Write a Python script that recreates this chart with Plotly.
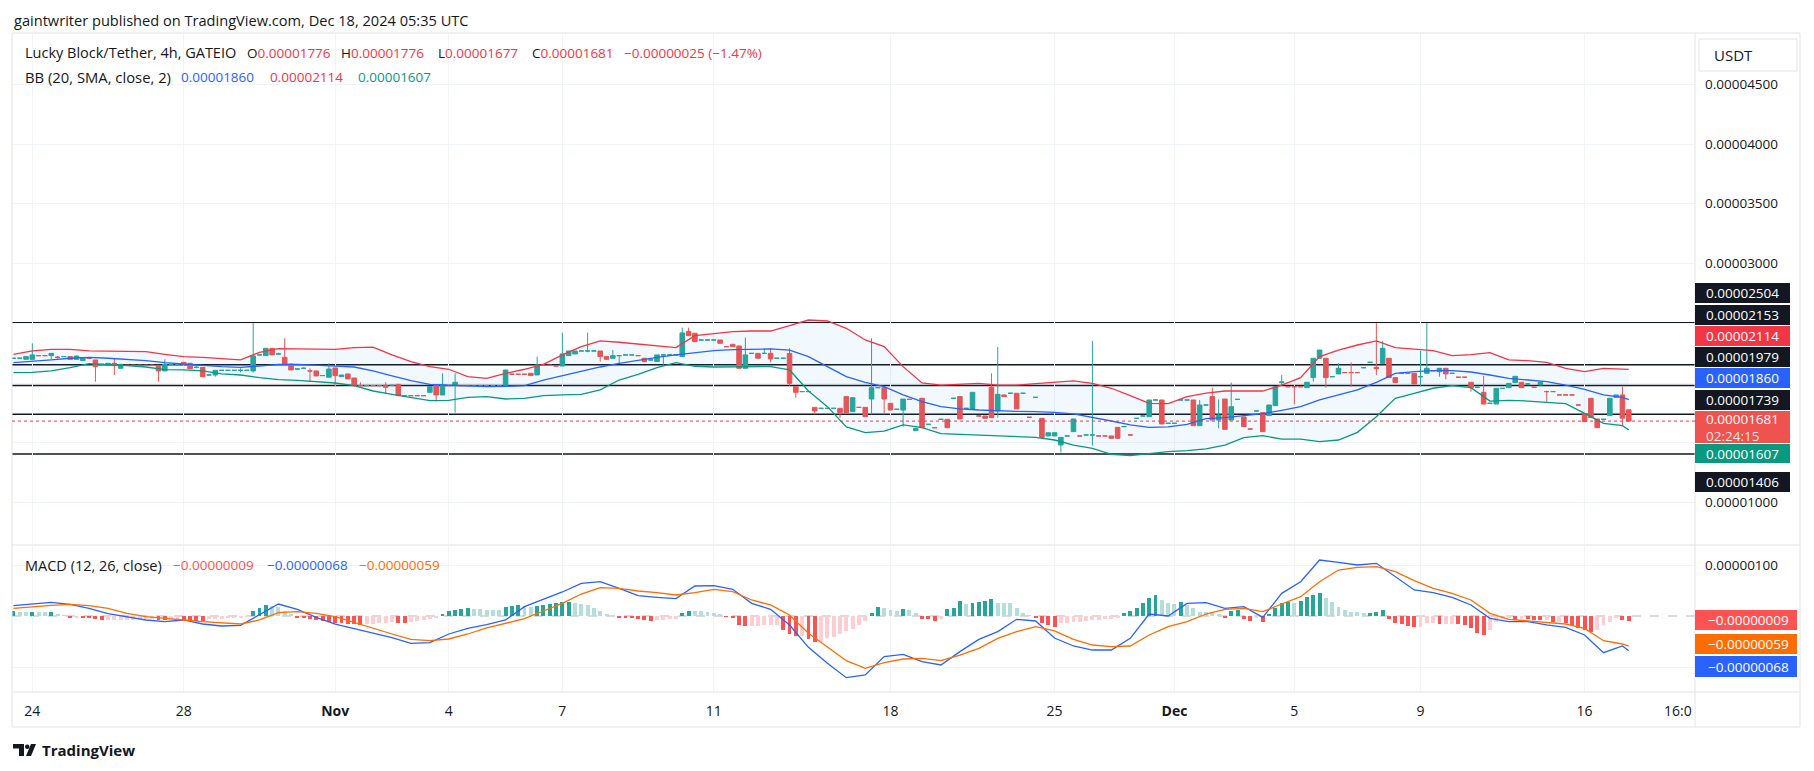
import plotly.graph_objects as go

# all prices / indicator values below are in units of 0.00000001 USDT
UNIT = 1e-8

opens = [
    2207, 2207, 2198, 2198, 2229, 2229, 2229, 2215, 2221, 2221,
    2198, 2187, 2207, 2193, 2156, 2148, 2165, 2123, 2148, 2148,
    2148, 2148, 2148, 2148, 2101, 2156, 2156, 2173, 2165, 2131,
    2131, 2067, 2067, 2106, 2106, 2106, 2106, 2106, 2101, 2235,
    2229, 2290, 2243, 2215, 2159, 2117, 2123, 2101, 2101, 2062,
    2048, 2126, 2053, 2076, 2042, 1978, 1978, 1978, 1978, 1981,
    1981, 1989, 1894, 1894, 1894, 1894, 1922, 1983, 1900, 1978,
    1978, 1978, 1978, 1978, 1978, 1978, 1978, 1978, 1978, 2073,
    2073, 2073, 2081, 2067, 2148, 2148, 2142, 2142, 2229, 2243,
    2268, 2268, 2268, 2268, 2221, 2207, 2229, 2235, 2235, 2229,
    2207, 2193, 2179, 2235, 2235, 2235, 2221, 2430, 2416, 2360,
    2360, 2360, 2360, 2304, 2324, 2310, 2123, 2248, 2248, 2248,
    2248, 2207, 2207, 2248, 1969, 1928, 1928, 1796, 1788, 1788,
    1788, 1788, 1886, 1760, 1796, 1796, 1866, 1961, 1961, 1830,
    1780, 1774, 1863, 1601, 1872, 1654, 1626, 1696, 1696, 1872,
    1886, 1788, 1783, 1724, 1724, 1964, 1766, 1900, 1914, 1914,
    1914, 1713, 1880, 1704, 1557, 1557, 1481, 1557, 1593, 1557,
    1565, 1565, 1557, 1557, 1557, 1629, 1635, 1565, 1704, 1724,
    1718, 1858, 1858, 1663, 1663, 1858, 1858, 1858, 1643, 1816,
    1886, 1690, 1866, 1690, 1863, 1716, 1615, 1766, 1752, 1727,
    1810, 2003, 1969, 1969, 1969, 1961, 2045, 2207, 2207, 2053,
    2076, 2087, 2087, 2087, 2128, 2173, 2131, 2162, 2207, 2045,
    2081, 2081, 2081, 2053, 2081, 2103, 2095, 2123, 2081, 2048,
    2048, 2006, 1964, 1922, 1830, 1824, 1955, 1961, 2003, 2006,
    1992, 1964, 1983, 1928, 1928, 1900, 1900, 1900, 1816, 1738,
    1872, 1699, 1696, 1727, 1880, 1900, 1776,
]
highs = [
    2207, 2207, 2221, 2332, 2229, 2229, 2248, 2226, 2221, 2221,
    2226, 2212, 2207, 2193, 2156, 2165, 2207, 2156, 2148, 2148,
    2148, 2148, 2148, 2148, 2198, 2156, 2156, 2173, 2165, 2140,
    2131, 2067, 2106, 2106, 2106, 2106, 2123, 2106, 2500, 2235,
    2290, 2290, 2254, 2374, 2159, 2117, 2131, 2123, 2101, 2062,
    2165, 2126, 2067, 2076, 2042, 2006, 1978, 1978, 1978, 2006,
    1981, 1989, 1894, 1894, 1894, 1894, 1969, 1983, 2081, 1978,
    2081, 1978, 1978, 1978, 1978, 1978, 1978, 1978, 2109, 2073,
    2073, 2073, 2081, 2221, 2148, 2148, 2142, 2421, 2268, 2268,
    2268, 2421, 2268, 2268, 2221, 2276, 2229, 2235, 2235, 2229,
    2207, 2193, 2235, 2235, 2235, 2235, 2463, 2463, 2416, 2360,
    2360, 2360, 2360, 2304, 2324, 2310, 2380, 2248, 2248, 2290,
    2290, 2207, 2207, 2290, 1969, 1928, 1928, 1796, 1788, 1788,
    1788, 1788, 1886, 1877, 1796, 1796, 2374, 1961, 1961, 1830,
    1780, 1866, 1863, 1621, 1872, 1654, 1626, 1696, 1696, 1872,
    1886, 1788, 1922, 1724, 1724, 2081, 2301, 1900, 1914, 1914,
    1914, 1713, 1880, 1704, 1584, 1584, 1545, 1557, 1699, 1557,
    1565, 2352, 1557, 1557, 1557, 1629, 1635, 1565, 1704, 1724,
    1858, 1858, 1858, 1663, 1663, 1858, 1858, 1858, 1858, 1816,
    1961, 1863, 1866, 2003, 1863, 1716, 1615, 1766, 1752, 1816,
    1969, 2067, 1969, 1969, 1969, 2006, 2207, 2276, 2207, 2053,
    2165, 2087, 2173, 2087, 2128, 2173, 2500, 2352, 2207, 2045,
    2081, 2081, 2081, 2268, 2500, 2103, 2123, 2123, 2081, 2048,
    2048, 2006, 1964, 2059, 1830, 1955, 1955, 1997, 2056, 2006,
    1992, 1964, 2006, 1936, 1928, 1900, 1900, 1900, 1816, 1738,
    1872, 1699, 1696, 1872, 1900, 1969, 1776,
]
lows = [
    2207, 2207, 2198, 2198, 2229, 2229, 2201, 2204, 2221, 2198,
    2198, 2187, 2207, 2011, 2156, 2148, 2067, 2123, 2148, 2148,
    2148, 2148, 2148, 2011, 2101, 2156, 2156, 2151, 2120, 2123,
    2053, 2067, 2053, 2106, 2106, 2106, 2089, 2106, 2087, 2235,
    2229, 2235, 2235, 2159, 2109, 2117, 2117, 2006, 2059, 2062,
    2048, 1969, 2053, 2034, 1978, 1972, 1978, 1978, 1978, 1914,
    1981, 1894, 1894, 1894, 1894, 1894, 1922, 1844, 1900, 1978,
    1752, 1978, 1978, 1978, 1978, 1978, 1978, 1978, 1978, 2073,
    2073, 2073, 2062, 2067, 2148, 2148, 2142, 2142, 2229, 2243,
    2268, 2257, 2268, 2179, 2198, 2207, 2165, 2235, 2235, 2229,
    2179, 2193, 2179, 2151, 2235, 2235, 2221, 2396, 2346, 2360,
    2360, 2360, 2332, 2304, 2304, 2123, 2123, 2248, 2207, 2248,
    2173, 2207, 2207, 1978, 1877, 1928, 1928, 1738, 1788, 1788,
    1788, 1710, 1752, 1760, 1796, 1718, 1738, 1961, 1738, 1774,
    1780, 1635, 1863, 1601, 1626, 1654, 1626, 1696, 1626, 1872,
    1699, 1788, 1783, 1724, 1704, 1710, 1710, 1886, 1914, 1783,
    1914, 1713, 1880, 1543, 1557, 1557, 1420, 1557, 1593, 1557,
    1565, 1476, 1557, 1557, 1537, 1537, 1635, 1565, 1704, 1724,
    1718, 1858, 1657, 1663, 1663, 1858, 1858, 1643, 1643, 1816,
    1690, 1621, 1612, 1690, 1863, 1635, 1615, 1766, 1593, 1727,
    1810, 1983, 1969, 1822, 1969, 1961, 2011, 2207, 1961, 2053,
    2076, 2087, 1969, 2087, 2128, 2173, 2067, 2162, 2045, 2003,
    2081, 2081, 1992, 1969, 2081, 2103, 2053, 2031, 2081, 2048,
    2048, 1928, 1964, 1824, 1830, 1824, 1955, 1961, 2003, 1961,
    1992, 1964, 1983, 1844, 1928, 1900, 1900, 1900, 1816, 1677,
    1710, 1626, 1696, 1727, 1880, 1643, 1677,
]
closes = [
    2207, 2207, 2221, 2235, 2229, 2229, 2248, 2215, 2221, 2198,
    2226, 2212, 2207, 2137, 2156, 2165, 2145, 2156, 2148, 2148,
    2148, 2148, 2148, 2101, 2156, 2156, 2156, 2151, 2120, 2131,
    2053, 2067, 2106, 2106, 2106, 2106, 2106, 2106, 2226, 2235,
    2290, 2235, 2243, 2159, 2109, 2117, 2123, 2101, 2059, 2062,
    2117, 2062, 2067, 2034, 1978, 1978, 1978, 1978, 1978, 1964,
    1981, 1894, 1894, 1894, 1894, 1894, 1969, 1900, 1983, 1978,
    2006, 1978, 1978, 1978, 1978, 1978, 1978, 1978, 2109, 2073,
    2073, 2073, 2062, 2151, 2148, 2148, 2142, 2243, 2268, 2268,
    2268, 2268, 2268, 2221, 2198, 2229, 2229, 2235, 2235, 2229,
    2179, 2193, 2235, 2235, 2235, 2235, 2419, 2396, 2346, 2360,
    2360, 2360, 2332, 2304, 2304, 2123, 2235, 2248, 2207, 2248,
    2201, 2207, 2207, 1997, 1922, 1928, 1928, 1766, 1788, 1788,
    1788, 1752, 1752, 1877, 1796, 1718, 1961, 1961, 1866, 1774,
    1780, 1866, 1863, 1621, 1626, 1654, 1626, 1696, 1626, 1872,
    1699, 1788, 1922, 1724, 1704, 1710, 1905, 1886, 1914, 1783,
    1914, 1713, 1880, 1543, 1584, 1584, 1545, 1557, 1699, 1557,
    1565, 1565, 1557, 1557, 1537, 1537, 1635, 1565, 1704, 1724,
    1858, 1858, 1657, 1663, 1663, 1858, 1858, 1643, 1816, 1816,
    1690, 1732, 1612, 1802, 1863, 1635, 1615, 1766, 1593, 1816,
    1969, 2009, 1969, 1969, 1969, 2006, 2207, 2276, 2045, 2053,
    2123, 2087, 2087, 2087, 2128, 2173, 2120, 2290, 2045, 2003,
    2081, 2081, 1992, 2053, 2123, 2103, 2123, 2076, 2081, 2048,
    2048, 1961, 1964, 1824, 1830, 1955, 1955, 1997, 2056, 1961,
    1992, 1964, 2006, 1928, 1928, 1900, 1900, 1900, 1816, 1677,
    1710, 1626, 1696, 1872, 1900, 1706, 1681,
]

# Bollinger Bands (20, SMA, close, 2) read every third bar
bb_bars = list(range(0, 256, 3)) + [256]
bb_upper = [
    2240, 2268, 2282, 2282, 2268, 2265, 2268, 2262, 2240, 2221, 2215, 2207,
    2193, 2257, 2288, 2285, 2282, 2282, 2296, 2301, 2235, 2179, 2137,
    2115, 2053, 2039, 2081, 2115, 2156, 2235, 2304, 2352, 2341, 2324, 2307,
    2296, 2396, 2416, 2430, 2435, 2435, 2480, 2527, 2519, 2458,
    2360, 2304, 2137, 2000, 1983, 1989, 1997, 1983, 1983, 1995, 2006, 2017,
    1997, 1956, 1894, 1830, 1827, 1886, 1916, 1933, 1933, 1933,
    1983, 2045, 2221, 2276, 2318, 2352, 2296, 2282, 2271, 2229, 2237, 2254,
    2193, 2187, 2173, 2123, 2095, 2123, 2120, 2114,
]
bb_basis = [
    2170, 2179, 2193, 2207, 2215, 2207, 2198, 2187, 2170, 2156, 2148, 2137,
    2131, 2142, 2156, 2156, 2151, 2142, 2134, 2101, 2059, 2020, 1989,
    1983, 1978, 1969, 1972, 1978, 2025, 2062, 2103, 2134, 2165, 2193, 2215,
    2235, 2254, 2271, 2279, 2285, 2285, 2276, 2221, 2137, 2053,
    2006, 1969, 1900, 1844, 1802, 1783, 1774, 1766, 1763, 1760, 1755, 1741,
    1713, 1682, 1649, 1629, 1632, 1654, 1702, 1710, 1727, 1743,
    1771, 1802, 1858, 1900, 1942, 2006, 2081, 2095, 2103, 2103, 2092, 2067,
    2039, 2025, 2011, 1983, 1947, 1900, 1880, 1860,
]
bb_lower = [
    2087, 2089, 2101, 2128, 2162, 2156, 2145, 2134, 2112, 2109, 2101, 2076,
    2067, 2045, 2028, 2022, 2008, 2000, 1978, 1933, 1905, 1877, 1852,
    1855, 1880, 1886, 1866, 1872, 1894, 1900, 1905, 1942, 2025, 2073, 2128,
    2170, 2140, 2134, 2137, 2137, 2137, 2109, 1933, 1802, 1632,
    1584, 1598, 1649, 1626, 1576, 1570, 1565, 1559, 1554, 1545, 1523, 1481,
    1453, 1403, 1392, 1411, 1425, 1434, 1448, 1481, 1543, 1559,
    1531, 1531, 1509, 1523, 1587, 1718, 1872, 1914, 1956, 1978, 1961, 1849,
    1855, 1849, 1838, 1827, 1746, 1663, 1643, 1607,
]

# MACD (12, 26, close), same sampling as the bands
macd_line = [
    20.3, 24.2, 26.8, 22.9, 15.0, 4.6, -1.3, -7.8, -11.1, -7.8, -15.7, -19.6,
    -18.3, 2.0, 23.5, 13.1, -2.6, -15.7, -24.8, -33.3, -42.5, -53.6, -52.3,
    -35.3, -24.2, -17.0, -7.8, 18.3, 33.3, 47.1, 64.1, 67.3, 54.2, 39.9, 36.6,
    34.0, 58.8, 59.5, 52.3, 24.8, 13.1, -17.6, -61.4, -92.8, -120.9,
    -115.7, -79.7, -75.2, -89.5, -96.1, -69.9, -45.8, -30.7, -6.5, -9.8, -43.1,
    -58.8, -66.7, -66.7, -43.8, 3.9, 0.0, 24.8, 26.1, 15.0, 18.3, -2.6,
    44.4, 67.3, 109.8, 105.2, 100.0, 103.3, 77.1, 51.0, 45.8, 36.6, 21.6, -4.6,
    -11.1, -11.1, -17.6, -22.2, -37.3, -71.9, -58.8, -68,
]
macd_signal = [
    15.0, 18.3, 20.9, 22.9, 20.3, 15.0, 5.2, -1.3, -3.9, -7.8, -11.1, -13.1,
    -15.7, -7.8, 6.5, 8.5, 5.2, -1.3, -13.1, -23.5, -35.3, -45.8, -48.4,
    -45.1, -35.3, -23.5, -14.4, -5.2, 9.8, 24.8, 43.1, 55.6, 54.2, 49.0, 45.8,
    41.2, 45.8, 52.3, 47.7, 31.4, 21.6, 2.0, -34.0, -60.1, -87.6,
    -102.6, -91.5, -84.3, -83.0, -87.6, -76.5, -63.4, -43.8, -30.7, -20.9, -29.4,
    -45.8, -56.9, -60.1, -58.8, -37.3, -20.9, -11.1, 3.9, 13.1, 15.0, 8.5,
    23.5, 37.9, 67.3, 90.2, 95.4, 96.7, 86.9, 69.3, 54.2, 44.4, 31.4, 5.2,
    -6.5, -9.8, -13.1, -15.7, -24.2, -48.4, -54.9, -59,
]
macd_hist = [
    9, 8, 7, 8, 7, 7, 8, 4, 1, -2,
    -2, -3, -4, -6, -8, -8, -8, -7, -7, -7,
    -6, -6, -6, -7, -8, -6, -5, -7, -8, -9,
    -10, -6, -5, -5, -4, -4, -3, -1, 10, 15,
    22, 20, 18, 10, 3, -2, -4, -6, -8, -10,
    -11, -13, -14, -15, -16, -17, -16, -15, -14, -13,
    -12, -13, -14, -12, -9, -7, -5, -2, 4, 9,
    12, 14, 15, 13, 13, 12, 12, 11, 18, 20,
    21, 19, 18, 20, 22, 24, 26, 27, 28, 26,
    24, 21, 16, 9, 4, 0, -2, -3, -4, -6,
    -8, -9, -8, -7, -6, -5, 6, 10, 9, 9,
    8, 6, 3, -1, -4, -18, -19, -19, -19, -18,
    -18, -17, -28, -36, -40, -40, -45, -50, -50, -44,
    -41, -36, -30, -26, -18, -10, 6, 18, 15, 12,
    10, 14, 12, 5, -5, -6, -9, -5, 13, 15,
    29, 24, 25, 27, 29, 33, 26, 26, 25, 15,
    5, 1, -3, -14, -18, -22, -13, -13, -12, -11,
    -9, -8, -7, -6, -5, -4, 5, 10, 15, 25,
    35, 41, 31, 26, 24, 28, 22, 15, 8, 8,
    7, 4, -3, 10, 12, -5, -10, -3, -11, 4,
    15, 25, 28, 25, 29, 38, 41, 46, 35, 28,
    18, 12, 8, 7, 5, 6, 7, 12, -5, -14,
    -16, -20, -22, -22, -14, -14, -15, -15, -15, -16,
    -18, -24, -34, -37, -27, -11, -5, -4, -8, -5,
    -6, -7, -8, -8, -11, -11, -14, -18, -24, -27,
    -31, -27, -18, -12, -3, -7, -9,
]

# horizontal levels drawn by the author
levels = [2504, 2153, 1979, 1739, 1406]

# date labels on the time axis (bar index -> label)
date_ticks = [3, 27, 51, 69, 87, 111, 139, 165, 184, 203, 223, 249]
date_labels = ["24", "28", "<b>Nov</b>", "4", "7", "11", "18", "25", "<b>Dec</b>", "5", "9", "16"]

price_ticks = [1000, 1500, 2000, 2500, 3000, 3500, 4000, 4500]
price_tick_shown = [True, False, False, False, True, True, True, True]

# ---- page geometry (pixels) ----
W, H = 1814, 771
PLOT_L, PLOT_R, FRAME_R = 12, 1695, 1800
PRICE_T, PRICE_B = 34, 544
MACD_T, MACD_B = 546, 692
BAR0_X, BAR_STEP = 13.4, 6.31
FONT = "Open Sans, Roboto, sans-serif"
DARK = "#131722"
RED, BLUE, GREEN = "#F23645", "#2962FF", "#089981"
UP, DOWN = "#26A69A", "#EF5350"


def px(x):
    return x / W


def py(y):
    return 1 - y / H


def fmt(v):
    return f"{v * UNIT:.8f}".replace("-", "\u2212")


bars = list(range(len(closes)))
x_range = [(PLOT_L - BAR0_X) / BAR_STEP, (PLOT_R - BAR0_X) / BAR_STEP]

hist_colors = []
prev = 0
for v in macd_hist:
    if v >= 0:
        hist_colors.append("#26A69A" if v > prev else "#B2DFDB")
    else:
        hist_colors.append("#FF5252" if v < prev else "#FFCDD2")
    prev = v

fig = go.Figure()

fig.add_trace(go.Scatter(x=bb_bars, y=[v * UNIT for v in bb_lower], mode="lines",
                         line=dict(color=GREEN, width=1.3), hoverinfo="skip"))
fig.add_trace(go.Scatter(x=bb_bars, y=[v * UNIT for v in bb_upper], mode="lines",
                         line=dict(color=RED, width=1.3), fill="tonexty",
                         fillcolor="rgba(33,150,243,0.06)", hoverinfo="skip"))
fig.add_trace(go.Scatter(x=bb_bars, y=[v * UNIT for v in bb_basis], mode="lines",
                         line=dict(color=BLUE, width=1.3), hoverinfo="skip"))
fig.add_trace(go.Candlestick(
    x=bars,
    open=[v * UNIT for v in opens], high=[v * UNIT for v in highs],
    low=[v * UNIT for v in lows], close=[v * UNIT for v in closes],
    increasing=dict(line=dict(color=UP, width=1), fillcolor=UP),
    decreasing=dict(line=dict(color=DOWN, width=1), fillcolor=DOWN),
    whiskerwidth=0,
))

fig.add_trace(go.Bar(x=bars, y=[v * UNIT for v in macd_hist], marker=dict(color=hist_colors, line_width=0),
                     width=0.62, xaxis="x2", yaxis="y2", hoverinfo="skip"))
fig.add_trace(go.Scatter(x=bb_bars, y=[v * UNIT for v in macd_line], mode="lines",
                         line=dict(color=BLUE, width=1.3), xaxis="x2", yaxis="y2"))
fig.add_trace(go.Scatter(x=bb_bars, y=[v * UNIT for v in macd_signal], mode="lines",
                         line=dict(color="#FF6D00", width=1.3), xaxis="x2", yaxis="y2"))

# ---- shapes ----
shapes = []
line_gray = dict(color="#E0E3EB", width=1)
shapes.append(dict(type="rect", xref="paper", yref="paper", x0=px(PLOT_L), x1=px(FRAME_R),
                   y0=py(727), y1=py(33), line=line_gray, layer="above"))
shapes.append(dict(type="line", xref="paper", yref="paper", x0=px(PLOT_R), x1=px(PLOT_R),
                   y0=py(727), y1=py(33), line=line_gray, layer="above"))
for yy in (545, 692):
    shapes.append(dict(type="line", xref="paper", yref="paper", x0=px(PLOT_L), x1=px(FRAME_R),
                       y0=py(yy), y1=py(yy), line=line_gray, layer="above"))
for lv in levels:
    shapes.append(dict(type="line", xref="paper", yref="y", x0=px(PLOT_L), x1=px(PLOT_R) + 0.003,
                       y0=lv * UNIT, y1=lv * UNIT, line=dict(color=DARK, width=1.5), layer="below"))
shapes.append(dict(type="line", xref="paper", yref="y", x0=px(PLOT_L), x1=px(PLOT_R),
                   y0=closes[-1] * UNIT, y1=closes[-1] * UNIT,
                   line=dict(color=RED, width=1, dash="dot")))
shapes.append(dict(type="line", xref="paper", yref="y2", x0=px(PLOT_L), x1=px(PLOT_R),
                   y0=0, y1=0, line=dict(color="#B2B5BE", width=1, dash="dash"), layer="below"))
# USDT button
shapes.append(dict(type="rect", xref="paper", yref="paper", x0=px(1699), x1=px(1797),
                   y0=py(71), y1=py(39), line=dict(color="#E0E3EB", width=1), fillcolor="white"))
# TradingView mark
shapes.append(dict(type="path", xref="paper", yref="paper",
                   path=f"M {px(13)} {py(744)} L {px(24)} {py(744)} L {px(24)} {py(756)} "
                        f"L {px(19)} {py(756)} L {px(19)} {py(748.5)} L {px(13)} {py(748.5)} Z",
                   fillcolor=DARK, line_width=0))
shapes.append(dict(type="circle", xref="paper", yref="paper", x0=px(25), x1=px(29.5),
                   y0=py(749), y1=py(744.5), fillcolor=DARK, line_width=0))
shapes.append(dict(type="path", xref="paper", yref="paper",
                   path=f"M {px(31)} {py(744)} L {px(36)} {py(744)} L {px(31)} {py(756)} "
                        f"L {px(26)} {py(756)} Z",
                   fillcolor=DARK, line_width=0))

annotations = []


def text(x, y, s, color=DARK, size=14.5, anchor="left", bold=False):
    annotations.append(dict(xref="paper", yref="paper", x=px(x), y=py(y), text=f"<b>{s}</b>" if bold else s,
                            showarrow=False, xanchor=anchor, yanchor="middle",
                            font=dict(family=FONT, size=size, color=color)))


def tag(top, bottom, color, x1=1790):
    shapes.append(dict(type="rect", xref="paper", yref="paper", x0=px(PLOT_R), x1=px(x1),
                       y0=py(bottom), y1=py(top), fillcolor=color, line_width=0, layer="above"))


text(12, 20, "gaintwriter published on TradingView.com, Dec 18, 2024 05:35 UTC", size=14.6)

# legend row 1: symbol and OHLC of the last bar
change = closes[-1] - closes[-2]
pct = change / closes[-2] * 100
text(23, 53, "Lucky Block/Tether, 4h, GATEIO")
for x, lab, val in ((245, "O", opens[-1]), (339, "H", highs[-1]), (436, "L", lows[-1]), (530, "C", closes[-1])):
    text(x, 53, f"{lab}<span style='color:{RED}'>{fmt(val)}</span>", size=13.5)
text(622, 53, f"{fmt(change)} ({pct:.2f}%)".replace("-", "\u2212"), color=RED, size=13.5)

# legend row 2: bands
text(23, 77, "BB (20, SMA, close, 2)", size=14.8)
text(179, 77, fmt(bb_basis[-1]), color=BLUE, size=13.5)
text(268, 77, fmt(bb_upper[-1]), color=RED, size=13.5)
text(356, 77, fmt(bb_lower[-1]), color=GREEN, size=13.5)

# MACD legend
text(23, 565, "MACD (12, 26, close)")
text(171, 565, fmt(macd_hist[-1]), color="#FF5252", size=13.5)
text(265, 565, fmt(macd_line[-1]), color=BLUE, size=13.5)
text(357, 565, fmt(macd_signal[-1]), color="#FF6D00", size=13.5)

text(1712, 55, "USDT", size=15)

# price-scale tags (stacked so they do not overlap)
price_tags = [
    (levels[0], DARK, 283, 303),
    (levels[1], DARK, 305, 325),
    (bb_upper[-1], RED, 326, 346),
    (levels[2], DARK, 347, 367),
    (bb_basis[-1], BLUE, 368, 388),
    (levels[3], DARK, 390, 410),
    (bb_lower[-1], GREEN, 444, 463),
    (levels[4], DARK, 472, 492),
]
for val, col, top, bot in price_tags:
    tag(top, bot, col)
    text(1704, (top + bot) / 2, fmt(val), color="white", size=13.5)
tag(411, 443, DOWN)
text(1704, 419.5, fmt(closes[-1]), color="white", size=13.5)
text(1704, 436, "02:24:15", color="rgba(255,255,255,0.85)", size=13.5)

macd_tags = [
    (macd_hist[-1], "#FF5252", 610, 630),
    (macd_signal[-1], "#FF6D00", 634, 654),
    (macd_line[-1], BLUE, 656, 677),
]
for val, col, top, bot in macd_tags:
    tag(top, bot, col, x1=1797)
    text(1706, (top + bot) / 2, fmt(val), color="white", size=13.5)

text(1694, 710, "16:0", anchor="right", size=14)
text(40, 750, "TradingView", size=15, bold=True)

axis_font = dict(family=FONT, size=13.5, color=DARK)
fig.update_layout(
    width=W, height=H,
    margin=dict(l=0, r=0, t=0, b=0),
    paper_bgcolor="white", plot_bgcolor="white",
    showlegend=False,
    bargap=0,
    boxgap=0.15, boxgroupgap=0.15,
    font=dict(family=FONT, size=14, color=DARK),
    xaxis=dict(domain=[px(PLOT_L), px(PLOT_R)], range=x_range, anchor="y",
               tickvals=date_ticks, showticklabels=False, showgrid=True, gridcolor="#F0F3FA",
               zeroline=False, showline=False, ticks="", rangeslider=dict(visible=False)),
    xaxis2=dict(domain=[px(PLOT_L), px(PLOT_R)], range=x_range, anchor="y2", matches="x",
                tickvals=date_ticks, ticktext=date_labels, showgrid=True, gridcolor="#F0F3FA",
                zeroline=False, showline=False, ticks="", ticklabelstandoff=9,
                tickfont=dict(family=FONT, size=14, color=DARK)),
    yaxis=dict(domain=[py(PRICE_B), py(PRICE_T)], range=[0.6527e-5, 4.9205e-5], side="right",
               anchor="x", tickvals=[v * UNIT for v in price_ticks],
               ticktext=[fmt(v) if s else "" for v, s in zip(price_ticks, price_tick_shown)],
               showgrid=True, gridcolor="#F0F3FA", zeroline=False, showline=False, ticks="",
               ticklabelstandoff=9, tickfont=axis_font),
    yaxis2=dict(domain=[py(MACD_B), py(MACD_T)], range=[-1.4902e-6, 1.3725e-6], side="right",
                anchor="x2", tickvals=[-100 * UNIT, 100 * UNIT], ticktext=["", fmt(100)],
                showgrid=True, gridcolor="#F0F3FA", zeroline=False, showline=False, ticks="",
                ticklabelstandoff=9, tickfont=axis_font),
    shapes=shapes,
    annotations=annotations,
)

# the page body gets no default margin, so the figure sits at the window corner
fig.write_html("out.html", config={"displayModeBar": False},
               post_script="document.body.style.margin='0px';")
